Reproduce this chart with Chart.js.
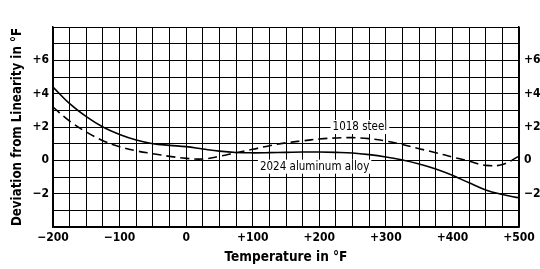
<!DOCTYPE html>
<html>
<head>
<meta charset="utf-8">
<script src="https://cdn.jsdelivr.net/npm/chart.js@4.4.1/dist/chart.umd.min.js"></script>
<style>
  html, body { margin: 0; padding: 0; background: #fff; }
  #wrap { width: 540px; height: 269px; position: relative; }
</style>
</head>
<body>
<div id="wrap"><canvas id="devChart"></canvas></div>
<script>
// temperature in °F, deviation in °F
const temps = [-200, -175, -150, -125, -100, -75, -50, -25, 0, 25, 50, 75, 100, 125, 150, 175,
               200, 225, 250, 275, 300, 325, 350, 375, 400, 425, 450, 475, 500];
const aluminum = [4.4, 3.4, 2.62, 2.0, 1.55, 1.22, 1.0, 0.9, 0.82, 0.68, 0.55, 0.47, 0.45, 0.46, 0.48, 0.5,
                  0.5, 0.48, 0.44, 0.34, 0.2, 0.02, -0.22, -0.52, -0.9, -1.35, -1.78, -2.05, -2.25];
const steel = [3.2, 2.35, 1.7, 1.18, 0.82, 0.57, 0.4, 0.24, 0.12, 0.08, 0.24, 0.46, 0.66, 0.88, 1.05, 1.17,
               1.28, 1.34, 1.36, 1.3, 1.16, 0.95, 0.7, 0.46, 0.2, -0.05, -0.3, -0.25, 0.25];
const xLabelEvery = 100;
const yLabelVals = [-2, 0, 2, 4, 6];

const FONT = '"DejaVu Sans Condensed", "Liberation Sans", sans-serif';
const INK = '#000';

function signed(v) {
    if (v === 0) return '0';
    return (v > 0 ? '+' : '\u2212') + Math.abs(v);
}

// curve labels with white box behind them
const curveLabels = {
    id: 'curveLabels',
    afterDatasetsDraw(chart) {
        const { ctx, scales: { x, y } } = chart;
        const items = [
            { text: '1018 steel', t: 261, d: 2.0 },
            { text: '2024 aluminum alloy', t: 193, d: -0.38 }
        ];
        ctx.save();
        ctx.font = '11.5px ' + FONT;
        ctx.textAlign = 'center';
        ctx.textBaseline = 'middle';
        items.forEach(it => {
            const px = x.getPixelForValue(it.t);
            const py = y.getPixelForValue(it.d);
            const w = ctx.measureText(it.text).width;
            ctx.fillStyle = '#fff';
            ctx.fillRect(px - w / 2 - 2, py - 7, w + 4, 14);
            ctx.fillStyle = INK;
            ctx.fillText(it.text, px, py);
        });
        ctx.restore();
    }
};

window.onload = function() {
    const ctx = document.getElementById('devChart').getContext('2d');
    new Chart(ctx, {
        type: 'line',
        data: {
            datasets: [{
                label: '2024 aluminum alloy',
                data: temps.map((t, i) => ({ x: t, y: aluminum[i] })),
                borderColor: INK,
                borderWidth: 1.6,
                pointRadius: 0,
                tension: 0.4,
                fill: false
            }, {
                label: '1018 steel',
                data: temps.map((t, i) => ({ x: t, y: steel[i] })),
                borderColor: INK,
                borderWidth: 1.6,
                borderDash: [9, 5],
                pointRadius: 0,
                tension: 0.4,
                fill: false
            }]
        },
        options: {
            responsive: true,
            maintainAspectRatio: false,
            animation: false,
            layout: { padding: { top: 27, left: 0, right: 0, bottom: 0 } },
            plugins: { legend: { display: false }, tooltip: { enabled: false } },
            scales: {
                x: {
                    type: 'linear',
                    min: -200, max: 500,
                    afterFit(s) { s.height = 42; },
                    grid: { color: INK, lineWidth: 1, drawTicks: false },
                    border: { color: INK, width: 1.5 },
                    ticks: {
                        stepSize: 25, autoSkip: false, maxRotation: 0, padding: 4,
                        color: INK, font: { family: FONT, size: 12, weight: 'bold' },
                        callback: v => (v % xLabelEvery === 0 ? signed(v) : '')
                    },
                    title: {
                        display: true, text: 'Temperature in °F', color: INK,
                        font: { family: FONT, size: 13.5, weight: 'bold' },
                        padding: { top: 0, bottom: 3 }
                    }
                },
                y: {
                    position: 'left',
                    min: -4, max: 8,
                    afterFit(s) { s.width = 53; },
                    grid: { color: INK, lineWidth: 1, drawTicks: false },
                    border: { color: INK, width: 1.5 },
                    ticks: {
                        stepSize: 1, autoSkip: false, padding: 4,
                        color: INK, font: { family: FONT, size: 12, weight: 'bold' },
                        callback: v => (yLabelVals.includes(v) ? signed(v) : '')
                    },
                    title: {
                        display: true, text: 'Deviation from Linearity in °F', color: INK,
                        font: { family: FONT, size: 13.2, weight: 'bold' },
                        padding: { top: 10, bottom: 0 }
                    }
                },
                y2: {
                    position: 'right',
                    min: -4, max: 8,
                    afterFit(s) { s.width = 21; },
                    grid: { display: false, drawTicks: false },
                    border: { color: INK, width: 1.5 },
                    ticks: {
                        stepSize: 1, autoSkip: false, padding: 5,
                        color: INK, font: { family: FONT, size: 12, weight: 'bold' },
                        callback: v => (yLabelVals.includes(v) ? signed(v) : '')
                    }
                }
            }
        },
        plugins: [curveLabels]
    });
};
</script>
</body>
</html>
